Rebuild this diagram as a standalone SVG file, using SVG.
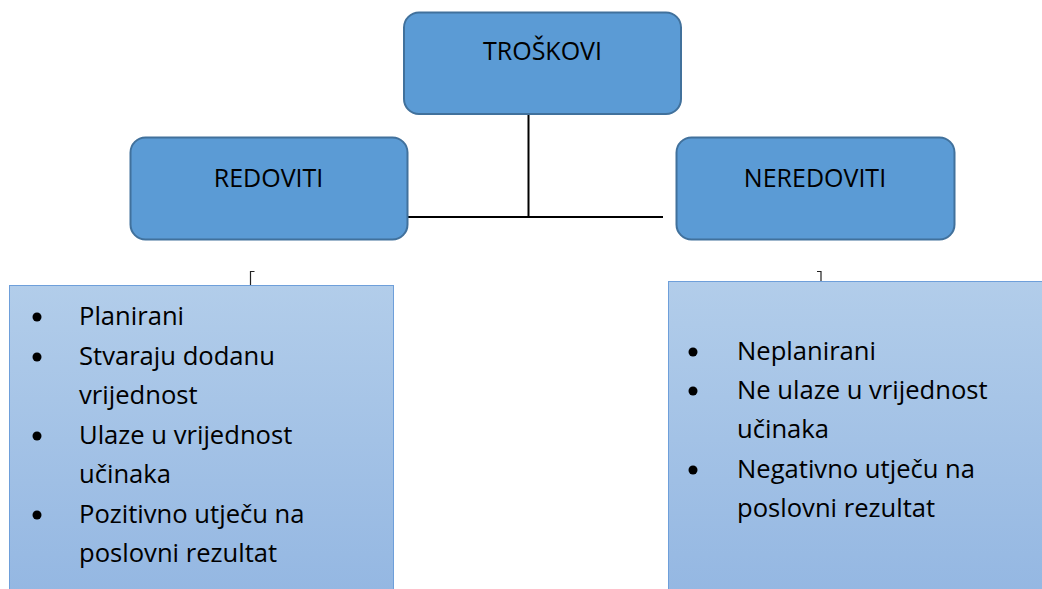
<svg xmlns="http://www.w3.org/2000/svg" width="1042" height="589" viewBox="0 0 1042 589">
<defs>
<linearGradient id="listGrad" x1="0" y1="0" x2="0" y2="1">
<stop offset="0" stop-color="#B2CDEA"/>
<stop offset="1" stop-color="#94B7E2"/>
</linearGradient>
<style>
.node rect{fill:#5B9BD5;stroke:#41719C;stroke-width:2}
.t{font-family:"Open Sans","Noto Sans","Liberation Sans",sans-serif;font-size:25px;fill:#000}
.l{font-size:25.6px}
.title{text-anchor:middle}
.list{fill:url(#listGrad);stroke:#6E9FDA;stroke-width:1}
.conn{stroke:#000;stroke-width:2;fill:none}
.brk{stroke:#222;stroke-width:1.2;fill:none}
.dot{fill:#000}
</style>
</defs>
<rect width="1042" height="589" fill="#fff"/>
<g id="connectors">
<line class="conn" x1="528.5" y1="114" x2="528.5" y2="217"/>
<line class="conn" x1="408" y1="217" x2="663" y2="217"/>
<path class="brk" d="M250.5 285 V271.5 H254.5"/>
<path class="brk" d="M817 271.5 H821 V282"/>
</g>
<g id="troskovi" class="node">
<rect x="404" y="12.5" width="277" height="101.5" rx="15"/>
<text class="t title" x="542.5" y="60">TROŠKOVI</text>
</g>
<g id="redoviti" class="node">
<rect x="130.5" y="137.5" width="277" height="102" rx="15"/>
<text class="t title" x="268.5" y="187">REDOVITI</text>
</g>
<g id="neredoviti" class="node">
<rect x="676.5" y="137.5" width="278" height="102" rx="15"/>
<text class="t title" x="815" y="187">NEREDOVITI</text>
</g>
<g id="redoviti-list">
<rect class="list" x="9.5" y="285.5" width="384" height="310"/>
<circle class="dot" cx="37" cy="317" r="4.5"/>
<circle class="dot" cx="37" cy="357" r="4.5"/>
<circle class="dot" cx="37" cy="436" r="4.5"/>
<circle class="dot" cx="37" cy="515" r="4.5"/>
<text class="t l" x="79" y="325">Planirani</text>
<text class="t l" x="79" y="365">Stvaraju dodanu</text>
<text class="t l" x="79" y="404">vrijednost</text>
<text class="t l" x="79" y="444">Ulaze u vrijednost</text>
<text class="t l" x="79" y="483">učinaka</text>
<text class="t l" x="79" y="523">Pozitivno utječu na</text>
<text class="t l" x="79" y="562">poslovni rezultat</text>
</g>
<g id="neredoviti-list">
<rect class="list" x="668.5" y="281.5" width="380" height="315"/>
<circle class="dot" cx="693" cy="352" r="4.5"/>
<circle class="dot" cx="693" cy="391" r="4.5"/>
<circle class="dot" cx="693" cy="470" r="4.5"/>
<text class="t l" x="737" y="360">Neplanirani</text>
<text class="t l" x="737" y="399">Ne ulaze u vrijednost</text>
<text class="t l" x="737" y="438">učinaka</text>
<text class="t l" x="737" y="478">Negativno utječu na</text>
<text class="t l" x="737" y="517">poslovni rezultat</text>
</g>
</svg>
